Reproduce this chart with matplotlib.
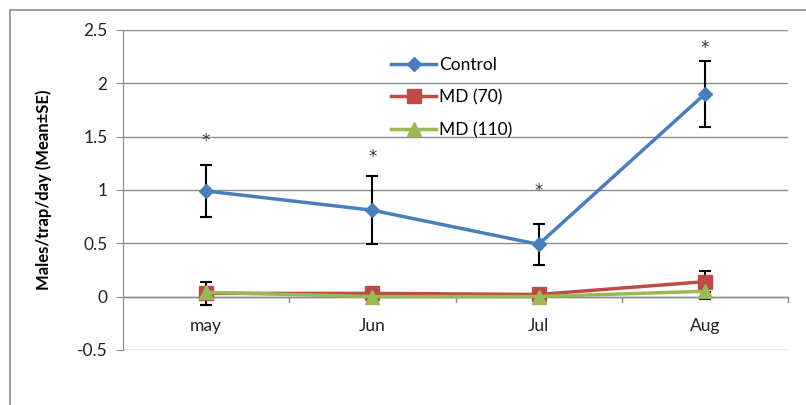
import matplotlib.pyplot as plt
import matplotlib.patches as patches
import numpy as np

# datos
months = ['may', 'Jun', 'Jul', 'Aug']
control = [0.99, 0.81, 0.49, 1.90]
control_se = [0.24, 0.32, 0.19, 0.31]
md70 = [0.03, 0.03, 0.02, 0.14]
md70_se = [0.11, 0.0, 0.0, 0.10]
md110 = [0.04, 0.0, 0.0, 0.05]
md110_se = [0.0, 0.0, 0.0, 0.07]
stars = [1.46, 1.31, 0.99, 2.33]

plt.rcParams['font.family'] = ['Lato', 'DejaVu Sans']

fig = plt.figure(figsize=(8.06, 4.05), dpi=100)
ax = fig.add_axes([0.1526, 0.136, 0.8251, 0.790])

# marco exterior
fig.patches.append(patches.Rectangle((10 / 806, -0.1), 1.2, 1 - 10 / 405 + 0.1,
                                     transform=fig.transFigure, fill=False,
                                     edgecolor='#8c8c8c', linewidth=1.2))

x = np.arange(len(months))

ax.errorbar(x, control, yerr=control_se, fmt='none', ecolor='black', elinewidth=1.5,
            capsize=4, capthick=1.5, zorder=2)
ax.errorbar(x, md70, yerr=md70_se, fmt='none', ecolor='black', elinewidth=1.5,
            capsize=4, capthick=1.5, zorder=2)
ax.errorbar(x, md110, yerr=md110_se, fmt='none', ecolor='black', elinewidth=1.5,
            capsize=4, capthick=1.5, zorder=2)

ax.plot(x, control, color='#4a7ebb', marker='D', markersize=7, linewidth=2.5,
        label='Control', zorder=5)
ax.plot(x, md70, color='#be4b48', marker='s', markersize=10, linewidth=2.5,
        label='MD (70)', zorder=3)
ax.plot(x, md110, color='#98b954', marker='^', markersize=10, linewidth=2.5,
        label='MD (110)', zorder=4)

for i in range(len(months)):
    ax.text(x[i], stars[i], '*', ha='center', va='center', fontsize=12,
            family='DejaVu Sans', color='#333333')

ax.set_xlim(-0.5, 3.5)
ax.set_ylim(-0.5, 2.5)
ax.set_yticks([-0.5, 0, 0.5, 1, 1.5, 2, 2.5])
ax.set_yticklabels(['-0.5', '0', '0.5', '1', '1.5', '2', '2.5'])
ax.yaxis.grid(True, color='#8c8c8c', linewidth=1)
ax.set_axisbelow(True)

# eje x en cero
ax.axhline(0, color='#8c8c8c', linewidth=1, zorder=1)
for b in [0.5, 1.5, 2.5, 3.5]:
    ax.plot([b, b], [0, -0.05], color='#8c8c8c', linewidth=1, zorder=1, clip_on=False)
ax.set_xticks([])
for i, m in enumerate(months):
    ax.text(x[i], -0.28, m, ha='center', va='center', fontsize=12.5, color='#222222')

for s in ['top', 'right', 'bottom']:
    ax.spines[s].set_visible(False)
ax.spines['left'].set_color('#8c8c8c')
ax.tick_params(axis='y', length=5, color='#8c8c8c', labelsize=12.5, labelcolor='#222222', pad=6)

ax.set_ylabel('Males/trap/day (Mean±SE)', fontsize=12, fontweight='bold', labelpad=18)

ax.legend(loc='upper left', bbox_to_anchor=(0.38, 0.965), frameon=False, fontsize=12.5,
          handlelength=2.6, handletextpad=0.15, labelspacing=0.95)

fig.savefig('out.png', dpi=100)
